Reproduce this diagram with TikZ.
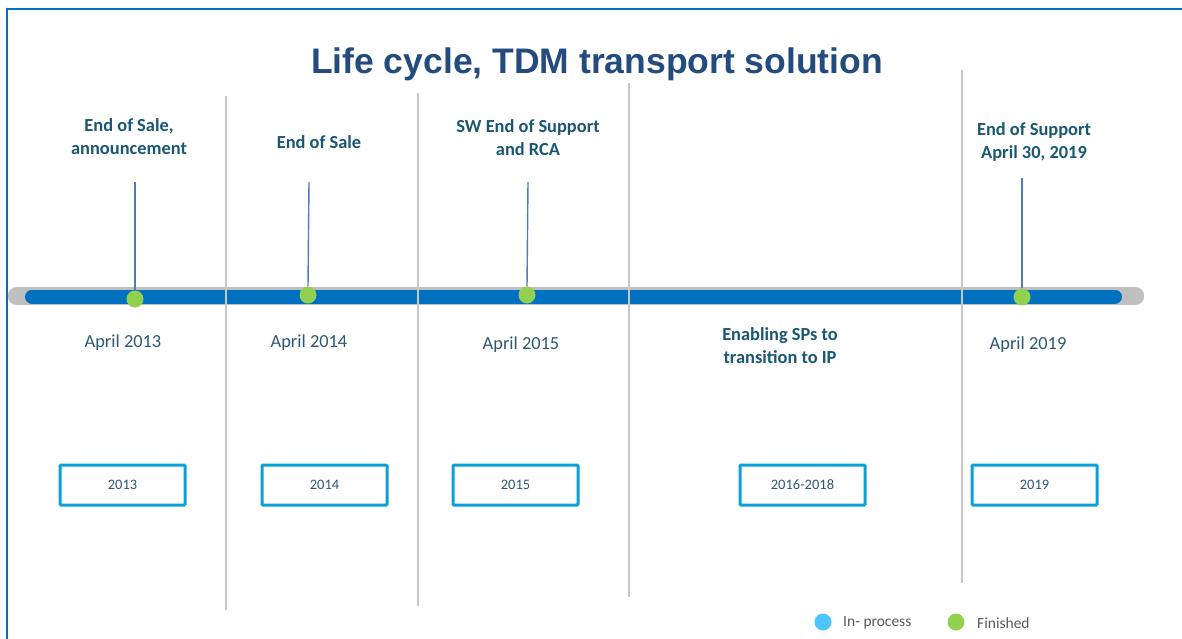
\documentclass[tikz,border=0pt]{standalone}
\usepackage{fontspec}
\setmainfont{Carlito}
\newfontfamily\titlefont{Liberation Sans}
\definecolor{frameblue}{HTML}{0070C0}
\definecolor{barblue}{HTML}{0070C0}
\definecolor{bargray}{HTML}{BFBFBF}
\definecolor{divgray}{HTML}{C8C8C8}
\definecolor{dotgreen}{HTML}{92D050}
\definecolor{dotblue}{HTML}{4DC3FF}
\definecolor{stemblue}{HTML}{4F7BC0}
\definecolor{titleblue}{HTML}{234B7E}
\definecolor{labelcol}{HTML}{1A5774}
\definecolor{datecol}{HTML}{2D5872}
\definecolor{boxcol}{HTML}{0AA0D8}
\definecolor{legcol}{HTML}{595959}
\begin{document}
\begin{tikzpicture}[x=1pt,y=-1pt,
  divider/.style={draw=divgray,line width=1.6pt},
  dotnode/.style={circle,fill=dotgreen,inner sep=0pt,minimum size=17pt},
  stem/.style={draw=stemblue,line width=1.4pt},
  toplabel/.style={font=\fontsize{18.4}{23}\selectfont\bfseries,text=labelcol,align=center,inner sep=0pt},
  datelabel/.style={font=\fontsize{18.4}{23}\selectfont,text=datecol,align=center,inner sep=0pt},
  yearbox/.style={draw=boxcol,line width=3pt,minimum width=125pt,minimum height=40pt,inner sep=0pt,font=\fontsize{14.5}{16}\selectfont,text=datecol,rounded corners=1pt},
  legtext/.style={font=\fontsize{15.5}{18}\selectfont,text=legcol,anchor=west,inner sep=0pt}]
\useasboundingbox (0,0) rectangle (1182,639);
\fill[white] (0,0) rectangle (1182,639);
% frame
\draw[frameblue,line width=2.2pt] (7,640) -- (7,9) -- (1183,9);
% title
\node[font=\titlefont\fontsize{35.5}{40}\selectfont\bfseries,text=titleblue,anchor=base] (title) at (597,74) {Life cycle, TDM transport solution};
% bar
\draw[bargray,line width=17.5pt,line cap=round] (16.5,296) -- (1135.5,296);
\draw[barblue,line width=14pt,line cap=round] (32,296.5) -- (1115,296.5);
% dividers
\draw[divider] (226,96) -- (226,610);
\draw[divider] (418,93) -- (418,606);
\draw[divider] (629,83) -- (629,597);
\draw[divider] (962,70) -- (962,583);
% dots and stems
\node[dotnode] (d1) at (135,299) {};
\node[dotnode] (d2) at (308,295) {};
\node[dotnode] (d3) at (527,295) {};
\node[dotnode] (d4) at (1022,297) {};
\coordinate (s1) at (135,182);
\coordinate (s2) at (309,182);
\coordinate (s3) at (528,182);
\coordinate (s4) at (1022,178);
\draw[stem] (s1) -- (d1.north);
\draw[stem] (s2) -- (d2.north);
\draw[stem] (s3) -- (d3.north);
\draw[stem] (s4) -- (d4.north);
% top labels
\node[toplabel] (t1) at (129,137) {End of Sale,\\announcement};
\node[toplabel] (t2) at (319,142) {End of Sale};
\node[toplabel] (t3) at (528,138) {SW End of Support\\and RCA};
\node[toplabel] (t4) at (1034,142) {End of Support\\April 30, 2019};
% bottom labels
\node[datelabel] (b1) at (123,343) {April 2013};
\node[datelabel] (b2) at (309,343) {April 2014};
\node[datelabel] (b3) at (521,345) {April 2015};
\node[toplabel] (b4) at (780,346) {Enabling SPs to\\transition to IP};
\node[datelabel] (b5) at (1028,345) {April 2019};
% year boxes
\node[yearbox] (y1) at (122.5,485) {2013};
\node[yearbox] (y2) at (324.5,485) {2014};
\node[yearbox] (y3) at (515.5,485) {2015};
\node[yearbox] (y4) at (802.5,485) {2016-2018};
\node[yearbox] (y5) at (1034.5,485) {2019};
% legend
\node[circle,fill=dotblue,inner sep=0pt,minimum size=17pt] (l1) at (823,622) {};
\node[legtext] (lt1) at (843,623) {In- process};
\node[circle,fill=dotgreen,inner sep=0pt,minimum size=17pt] (l2) at (956,622) {};
\node[legtext] (lt2) at (977,623) {Finished};
\end{tikzpicture}
\end{document}
